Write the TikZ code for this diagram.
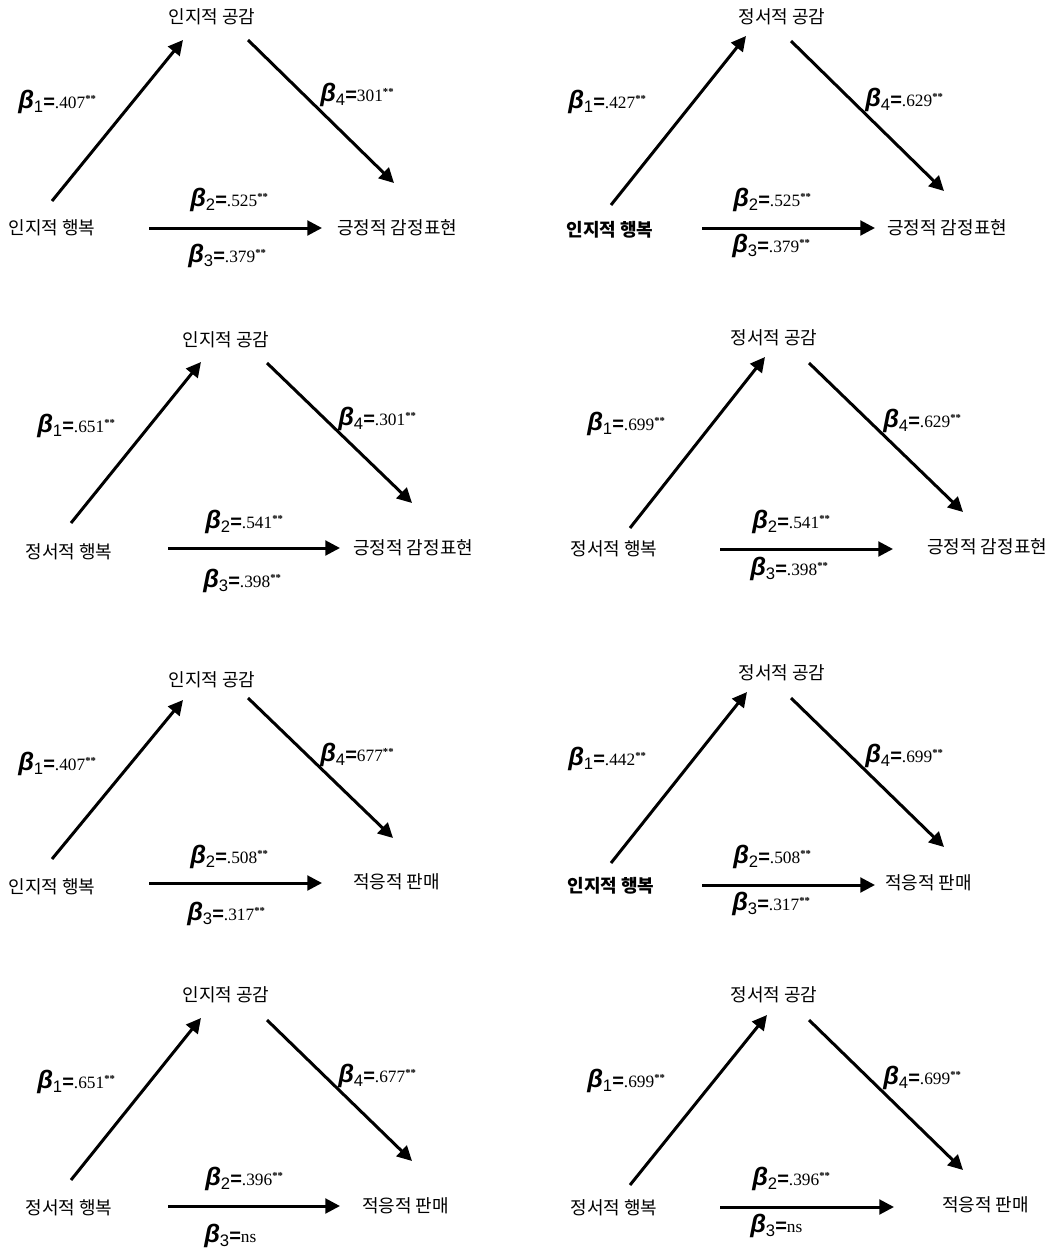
\documentclass[tikz,border=0pt]{standalone}
\usepackage{fontspec}
\usetikzlibrary{arrows.meta}
\newfontfamily\korf{Noto Sans CJK KR}
\newfontfamily\latsans{Liberation Sans}
\newfontfamily\latserif{Liberation Serif}
\newcommand{\st}{\raisebox{4pt}{\latserif\bfseries\fontsize{8}{8}\selectfont **}}
\newcommand{\coef}[2]{{\latsans\bfseries\itshape\fontsize{19}{19}\selectfont β}\raisebox{-3.5pt}{\latsans\fontsize{12.5}{12.5}\selectfont #1}{\latsans\bfseries\fontsize{15}{15}\selectfont =}{\latserif\fontsize{13}{13}\selectfont #2}}
\begin{document}
\begin{tikzpicture}[x=0.75pt,y=-0.75pt,
  kor/.style={font=\korf\fontsize{13.5}{13.5}\selectfont, inner sep=0pt},
  korb/.style={font=\korf\bfseries\fontsize{13.5}{13.5}\selectfont, inner sep=0pt},
  lab/.style={anchor=base west, inner sep=0pt},
  arr/.style={line width=2.25pt, -{Triangle[length=11pt,width=11pt]}}]
\useasboundingbox (0,0) rectangle (1053,1250);

% ---------- Panel A ----------
\node[kor] (A-m) at (212,17) {인지적 공감};
\node[kor] (A-x) at (52,228) {인지적 행복};
\node[kor,anchor=west] (A-y) at (337,228) {긍정적 감정표현};
\coordinate (A-1s) at (52,201); \coordinate (A-1e) at (183,40);
\coordinate (A-4s) at (248,40); \coordinate (A-4e) at (394,183);
\coordinate (A-hs) at (149,228); \coordinate (A-he) at (322,228);
\draw[arr] (A-1s) -- (A-1e);
\draw[arr] (A-4s) -- (A-4e);
\draw[arr] (A-hs) -- (A-he);
\node[lab] (A-l1) at (18,108) {\coef{1}{.407\st}};
\node[lab] (A-l4) at (320,101) {\coef{4}{301\st}};
\node[lab] (A-l2) at (190,206) {\coef{2}{.525\st}};
\node[lab] (A-l3) at (188,262) {\coef{3}{.379\st}};

% ---------- Panel B ----------
\node[kor] (B-m) at (782,17) {정서적 공감};
\node[korb] (B-x) at (610,230) {인지적 행복};
\node[kor,anchor=west] (B-y) at (887,228) {긍정적 감정표현};
\coordinate (B-1s) at (611,205); \coordinate (B-1e) at (746,36);
\coordinate (B-4s) at (791,41); \coordinate (B-4e) at (944,191);
\coordinate (B-hs) at (702,228); \coordinate (B-he) at (875,228);
\draw[arr] (B-1s) -- (B-1e);
\draw[arr] (B-4s) -- (B-4e);
\draw[arr] (B-hs) -- (B-he);
\node[lab] (B-l1) at (568,108) {\coef{1}{.427\st}};
\node[lab] (B-l4) at (865,106) {\coef{4}{.629\st}};
\node[lab] (B-l2) at (733,206) {\coef{2}{.525\st}};
\node[lab] (B-l3) at (732,252) {\coef{3}{.379\st}};

% ---------- Panel C ----------
\node[kor] (C-m) at (226,340) {인지적 공감};
\node[kor] (C-x) at (69,552) {정서적 행복};
\node[kor,anchor=west] (C-y) at (353,548) {긍정적 감정표현};
\coordinate (C-1s) at (71,523); \coordinate (C-1e) at (201,362);
\coordinate (C-4s) at (267,363); \coordinate (C-4e) at (412,503);
\coordinate (C-hs) at (168,548); \coordinate (C-he) at (340,548);
\draw[arr] (C-1s) -- (C-1e);
\draw[arr] (C-4s) -- (C-4e);
\draw[arr] (C-hs) -- (C-he);
\node[lab] (C-l1) at (37,432) {\coef{1}{.651\st}};
\node[lab] (C-l4) at (338,425) {\coef{4}{.301\st}};
\node[lab] (C-l2) at (205,528) {\coef{2}{.541\st}};
\node[lab] (C-l3) at (203,587) {\coef{3}{.398\st}};

% ---------- Panel D ----------
\node[kor] (D-m) at (774,338) {정서적 공감};
\node[kor] (D-x) at (614,549) {정서적 행복};
\node[kor,anchor=west] (D-y) at (927,547) {긍정적 감정표현};
\coordinate (D-1s) at (630,528); \coordinate (D-1e) at (765,357);
\coordinate (D-4s) at (809,363); \coordinate (D-4e) at (963,512);
\coordinate (D-hs) at (720,549); \coordinate (D-he) at (893,549);
\draw[arr] (D-1s) -- (D-1e);
\draw[arr] (D-4s) -- (D-4e);
\draw[arr] (D-hs) -- (D-he);
\node[lab] (D-l1) at (587,430) {\coef{1}{.699\st}};
\node[lab] (D-l4) at (883,427) {\coef{4}{.629\st}};
\node[lab] (D-l2) at (752,528) {\coef{2}{.541\st}};
\node[lab] (D-l3) at (750,575) {\coef{3}{.398\st}};

% ---------- Panel E ----------
\node[kor] (E-m) at (212,680) {인지적 공감};
\node[kor] (E-x) at (52,887) {인지적 행복};
\node[kor,anchor=west] (E-y) at (353,882) {적응적 판매};
\coordinate (E-1s) at (52,859); \coordinate (E-1e) at (183,700);
\coordinate (E-4s) at (248,698); \coordinate (E-4e) at (393,838);
\coordinate (E-hs) at (149,883); \coordinate (E-he) at (322,883);
\draw[arr] (E-1s) -- (E-1e);
\draw[arr] (E-4s) -- (E-4e);
\draw[arr] (E-hs) -- (E-he);
\node[lab] (E-l1) at (18,770) {\coef{1}{.407\st}};
\node[lab] (E-l4) at (320,761) {\coef{4}{677\st}};
\node[lab] (E-l2) at (190,863) {\coef{2}{.508\st}};
\node[lab] (E-l3) at (187,920) {\coef{3}{.317\st}};

% ---------- Panel F ----------
\node[kor] (F-m) at (782,673) {정서적 공감};
\node[korb] (F-x) at (611,886) {인지적 행복};
\node[kor,anchor=west] (F-y) at (885,883) {적응적 판매};
\coordinate (F-1s) at (611,863); \coordinate (F-1e) at (747,692);
\coordinate (F-4s) at (791,698); \coordinate (F-4e) at (944,847);
\coordinate (F-hs) at (702,885); \coordinate (F-he) at (875,885);
\draw[arr] (F-1s) -- (F-1e);
\draw[arr] (F-4s) -- (F-4e);
\draw[arr] (F-hs) -- (F-he);
\node[lab] (F-l1) at (568,765) {\coef{1}{.442\st}};
\node[lab] (F-l4) at (865,762) {\coef{4}{.699\st}};
\node[lab] (F-l2) at (733,863) {\coef{2}{.508\st}};
\node[lab] (F-l3) at (732,910) {\coef{3}{.317\st}};

% ---------- Panel G ----------
\node[kor] (G-m) at (226,995) {인지적 공감};
\node[kor] (G-x) at (69,1208) {정서적 행복};
\node[kor,anchor=west] (G-y) at (362,1206) {적응적 판매};
\coordinate (G-1s) at (71,1180); \coordinate (G-1e) at (201,1018);
\coordinate (G-4s) at (267,1020); \coordinate (G-4e) at (412,1161);
\coordinate (G-hs) at (168,1206); \coordinate (G-he) at (340,1206);
\draw[arr] (G-1s) -- (G-1e);
\draw[arr] (G-4s) -- (G-4e);
\draw[arr] (G-hs) -- (G-he);
\node[lab] (G-l1) at (37,1088) {\coef{1}{.651\st}};
\node[lab] (G-l4) at (338,1082) {\coef{4}{.677\st}};
\node[lab] (G-l2) at (205,1185) {\coef{2}{.396\st}};
\node[lab] (G-l3) at (204,1242) {\coef{3}{ns}};

% ---------- Panel H ----------
\node[kor] (H-m) at (774,995) {정서적 공감};
\node[kor] (H-x) at (614,1208) {정서적 행복};
\node[kor,anchor=west] (H-y) at (942,1205) {적응적 판매};
\coordinate (H-1s) at (630,1185); \coordinate (H-1e) at (767,1015);
\coordinate (H-4s) at (809,1020); \coordinate (H-4e) at (963,1170);
\coordinate (H-hs) at (720,1207); \coordinate (H-he) at (894,1207);
\draw[arr] (H-1s) -- (H-1e);
\draw[arr] (H-4s) -- (H-4e);
\draw[arr] (H-hs) -- (H-he);
\node[lab] (H-l1) at (587,1087) {\coef{1}{.699\st}};
\node[lab] (H-l4) at (883,1084) {\coef{4}{.699\st}};
\node[lab] (H-l2) at (752,1185) {\coef{2}{.396\st}};
\node[lab] (H-l3) at (750,1232) {\coef{3}{ns}};
\end{tikzpicture}
\end{document}
